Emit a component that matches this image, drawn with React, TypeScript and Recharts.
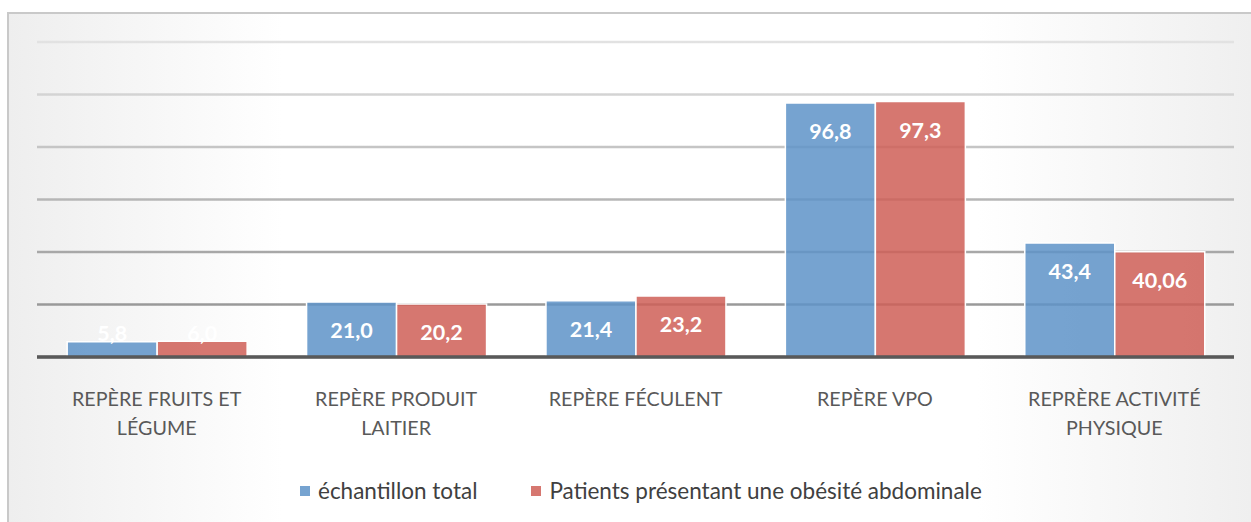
import { BarChart, Bar, XAxis, YAxis, CartesianGrid, LabelList, Text } from "recharts";

// categories and series
const categories = [
  "REPÈRE FRUITS ET LÉGUME",
  "REPÈRE PRODUIT LAITIER",
  "REPÈRE FÉCULENT",
  "REPÈRE VPO",
  "REPRÈRE ACTIVITÉ PHYSIQUE",
];
const echantillonTotal = [5.8, 21.0, 21.4, 96.8, 43.4];
const obesiteAbdominale = [6.0, 20.2, 23.2, 97.3, 40.06];
const yTicks = [0, 20, 40, 60, 80, 100, 120];

const SERIES_NAMES = ["échantillon total", "Patients présentant une obésité abdominale"];
const BLUE = "#5e93c8";
const RED = "#cf5f57";
const FONT = "Lato, 'Open Sans', sans-serif";

const data = categories.map((name, i) => ({
  name,
  total: echantillonTotal[i],
  obese: obesiteAbdominale[i],
}));

const fmt = (v: number) => (Number.isInteger(v) ? v.toFixed(1) : String(v)).replace(".", ",");

function BarValue(props: any) {
  const { x, y, width, height, value } = props;
  // inside end, but kept above the axis when the bar is too short
  const cy = Math.min(y + 28, y + height - 24);
  return (
    <text
      x={x + width / 2}
      y={cy}
      textAnchor="middle"
      dominantBaseline="central"
      fill="#ffffff"
      fontFamily={FONT}
      fontWeight={700}
      fontSize={21.5}
    >
      {fmt(value)}
    </text>
  );
}

function CategoryTick(props: any) {
  const { x, y, payload } = props;
  return (
    <Text
      x={x}
      y={y + 27}
      width={185}
      textAnchor="middle"
      verticalAnchor="start"
      lineHeight={29}
      fill="#595959"
      fontFamily={FONT}
      fontSize={19.7}
    >
      {payload.value}
    </Text>
  );
}

export default function App() {
  return (
    <div>
      <div
        style={{
          position: "fixed",
          left: 7,
          top: 12,
          width: 1244,
          height: 510,
          boxSizing: "border-box",
          borderTop: "2px solid #c9c9c9",
          borderLeft: "2px solid #c9c9c9",
          background: "linear-gradient(to right, #eeeeee 0%, #ffffff 22%, #ffffff 78%, #efefef 100%)",
        }}
      />
      <div style={{ position: "fixed", left: 0, top: 0 }}>
        <BarChart
          width={1251}
          height={522}
          data={data}
          margin={{ top: 42, right: 17, left: 37, bottom: 105 }}
          barCategoryGap="12.6%"
          barGap={0}
        >
          <defs>
            <linearGradient id="gridGrad" gradientUnits="userSpaceOnUse" x1="0" y1="42" x2="0" y2="305">
              <stop offset="0%" stopColor="#e2e2e2" />
              <stop offset="100%" stopColor="#999999" />
            </linearGradient>
          </defs>
          <CartesianGrid vertical={false} stroke="url(#gridGrad)" strokeWidth={2.5} />
          <YAxis hide domain={[0, 120]} ticks={yTicks} />
          <XAxis
            dataKey="name"
            height={60}
            interval={0}
            tickLine={false}
            axisLine={{ stroke: "#595959", strokeWidth: 3.5 }}
            tick={<CategoryTick />}
          />
          <Bar dataKey="total" name={SERIES_NAMES[0]} fill={BLUE} fillOpacity={0.85} stroke="#ffffff" strokeWidth={1.5} isAnimationActive={false}>
            <LabelList dataKey="total" content={<BarValue />} />
          </Bar>
          <Bar dataKey="obese" name={SERIES_NAMES[1]} fill={RED} fillOpacity={0.85} stroke="#ffffff" strokeWidth={1.5} isAnimationActive={false}>
            <LabelList dataKey="obese" content={<BarValue />} />
          </Bar>
        </BarChart>
      </div>
      <div
        style={{
          position: "fixed",
          left: 300,
          top: 477,
          display: "flex",
          alignItems: "center",
          fontFamily: FONT,
          fontSize: 22.5,
          color: "#404040",
        }}
      >
        {SERIES_NAMES.map((n, i) => (
          <div key={n} style={{ display: "flex", alignItems: "center", marginRight: 54 }}>
            <span
              style={{
                display: "inline-block",
                width: 10,
                height: 10,
                marginRight: 8,
                background: i === 0 ? BLUE : RED,
                opacity: 0.85,
              }}
            />
            <span>{n}</span>
          </div>
        ))}
      </div>
    </div>
  );
}
